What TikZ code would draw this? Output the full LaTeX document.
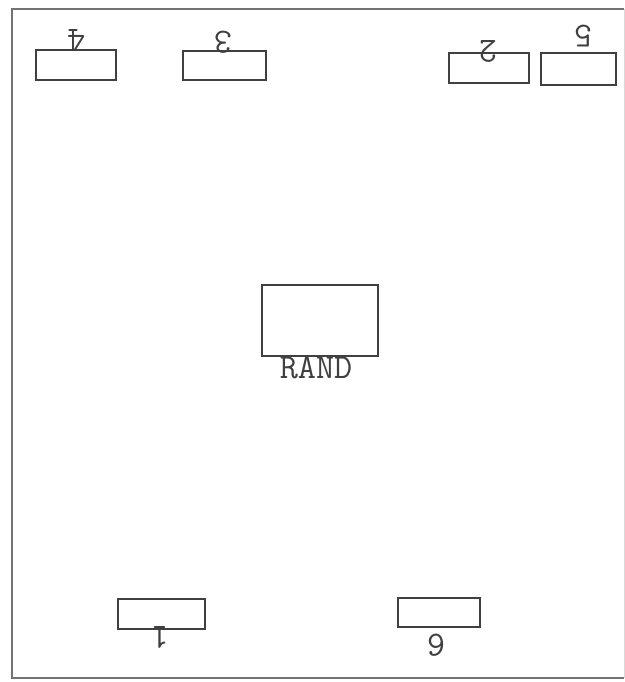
\documentclass[tikz,border=0pt]{standalone}
\begin{document}
\begin{tikzpicture}[
    seat/.style={rectangle, draw=black!75, line width=0.6pt, inner sep=0pt},
    seatlabel/.style={font=\fontsize{20}{22}\selectfont\ttfamily, text=black!75, inner sep=0pt, rotate=180} ]
    % --- Frame ---
    \draw[black!55, line width=0.8pt] (12.48, 13.46) -- (0.24, 13.46) -- (0.24, 0.08) -- (12.48, 0.08);
    \draw[black!15, line width=0.5pt] (12.48, 13.46) -- (12.48, 0.08);

    % --- Top row ---
    \node[seat, minimum width=1.6cm, minimum height=0.6cm] (s4) at (1.52, 12.34) {};
    \node[seat, minimum width=1.66cm, minimum height=0.58cm] (s3) at (4.49, 12.33) {};
    \node[seat, minimum width=1.6cm, minimum height=0.6cm] (s2) at (9.78, 12.28) {};
    \node[seat, minimum width=1.5cm, minimum height=0.64cm, line width=1pt] (s5) at (11.57, 12.26) {};

    \node[seatlabel] (l4) at (1.52, 12.84) {4};
    \node[seatlabel] (l3) at (4.46, 12.8) {3};
    \node[seatlabel] (l2) at (9.76, 12.62) {2};
    \node[seatlabel] (l5) at (11.66, 12.92) {5};

    % --- Table ---
    \node[seat, minimum width=2.32cm, minimum height=1.42cm] (rand) at (6.4, 7.23) {};
    \node[seatlabel, rotate=180] (lrand) at (6.32, 6.29) {RAND};

    % --- Bottom row ---
    \node[seat, minimum width=1.74cm, minimum height=0.6cm] (s1) at (3.23, 1.36) {};
    \node[seat, minimum width=1.64cm, minimum height=0.58cm, line width=1pt] (s6) at (8.78, 1.39) {};

    \node[seatlabel] (l1) at (3.2, 0.9) {1};
    \node[seatlabel] (l6) at (8.72, 0.74) {6};

    % Bounding box for padding
    \useasboundingbox (0, 0) rectangle (12.5, 13.64);
\end{tikzpicture}
\end{document}
